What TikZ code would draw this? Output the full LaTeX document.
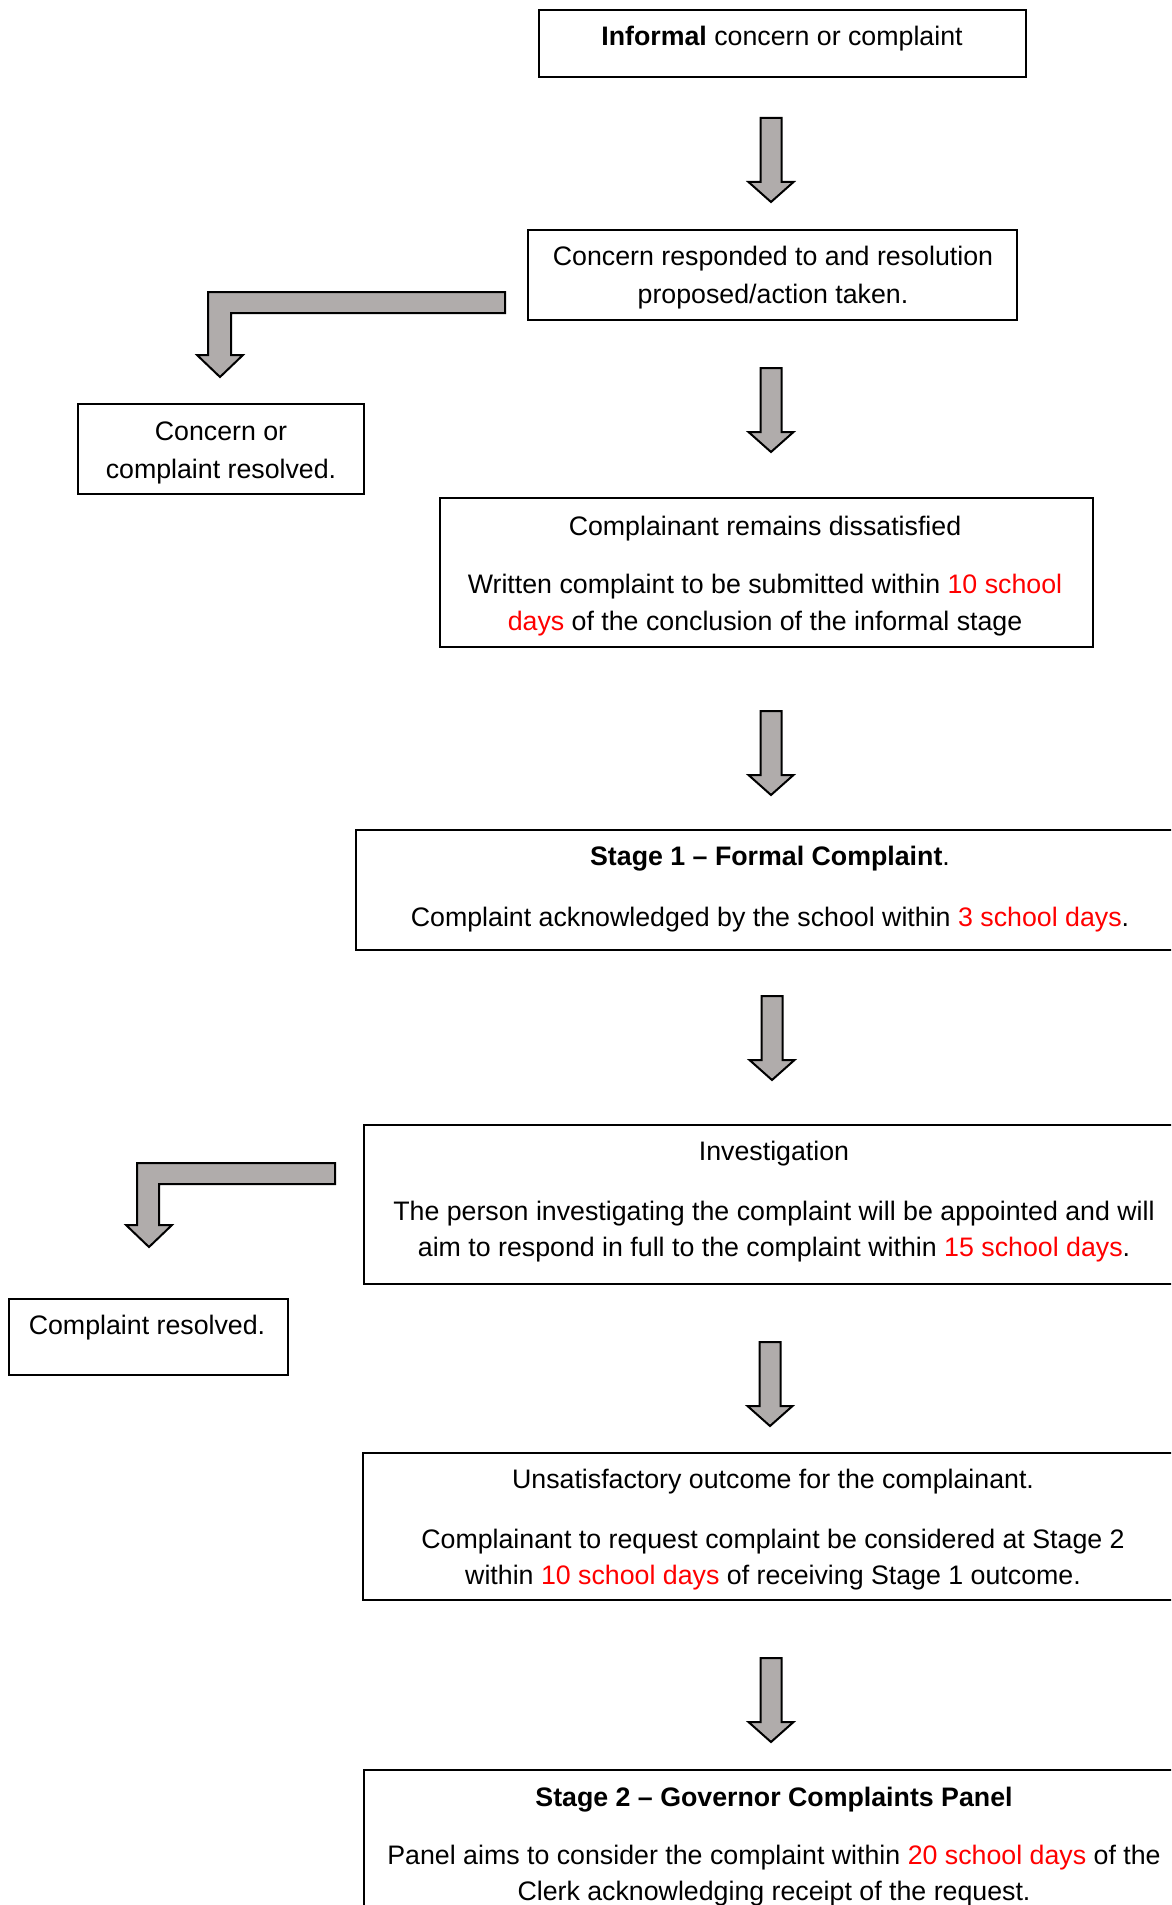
\documentclass[tikz,border=0pt]{standalone}
\usepackage{fontspec}
\setmainfont{Liberation Sans}
\definecolor{arrowgray}{RGB}{176,172,171}
\definecolor{dayred}{RGB}{255,0,0}
\newcommand{\rd}[1]{\textcolor{dayred}{#1}}
\begin{document}
\begin{tikzpicture}[x=1pt,y=-1pt,
  box/.style={draw=black,line width=2pt,inner sep=0pt},
  txt/.style={anchor=base,inner sep=0pt,font=\fontsize{26.75}{36.5}\selectfont},
  blockarrow/.style={draw=black,line width=2pt,fill=arrowgray,line join=miter},
  downarrow/.pic={\draw[blockarrow] (-10.5,0) -- (10.5,0) -- (10.5,64) -- (22.5,64) -- (0,84) -- (-22.5,64) -- (-10.5,64) -- cycle;}]
\useasboundingbox (0,0) rectangle (1171,1905);
\clip (0,0) rectangle (1171,1905);
% boxes
\node[box,minimum width=487,minimum height=67] (b1) at (782.5,43.5) {};
\node[box,minimum width=489,minimum height=90] (b2) at (772.5,275) {};
\node[box,minimum width=286,minimum height=90] (b3) at (221,449) {};
\node[box,minimum width=653,minimum height=149] (b4) at (766.5,572.5) {};
\node[box,minimum width=828,minimum height=120] (b5) at (770,890) {};
\node[box,minimum width=820,minimum height=159] (b6) at (774,1204.5) {};
\node[box,minimum width=279,minimum height=76] (b7) at (148.5,1337) {};
\node[box,minimum width=821,minimum height=147] (b8) at (773.5,1526.5) {};
\node[box,minimum width=820,minimum height=200] (b9) at (774,1870) {};
% texts
\node[txt] (t1) at (782,45.5) {\textbf{Informal} concern or complaint};
\node[txt] (t2a) at (773,265.5) {Concern responded to and resolution};
\node[txt] (t2b) at (773,303.5) {proposed/action taken.};
\node[txt] (t3a) at (221,440.5) {Concern or};
\node[txt] (t3b) at (221,478.5) {complaint resolved.};
\node[txt] (t4a) at (765,535.5) {Complainant remains dissatisfied};
\node[txt] (t4b) at (765,593.5) {Written complaint to be submitted within \rd{10 school}};
\node[txt] (t4c) at (765,630.5) {\rd{days} of the conclusion of the informal stage};
\node[txt] (t5a) at (770,865.5) {\textbf{Stage 1 – Formal Complaint}.};
\node[txt] (t5b) at (770,926.5) {Complaint acknowledged by the school within \rd{3 school days}.};
\node[txt] (t6a) at (774,1160.5) {Investigation};
\node[txt] (t6b) at (774,1220.5) {The person investigating the complaint will be appointed and will};
\node[txt] (t6c) at (774,1256.5) {aim to respond in full to the complaint within \rd{15 school days}.};
\node[txt] (t7) at (147,1334.5) {Complaint resolved.};
\node[txt] (t8a) at (773,1488.5) {Unsatisfactory outcome for the complainant.};
\node[txt] (t8b) at (773,1548.5) {Complainant to request complaint be considered at Stage 2};
\node[txt] (t8c) at (773,1584.5) {within \rd{10 school days} of receiving Stage 1 outcome.};
\node[txt] (t9a) at (774,1806.5) {\textbf{Stage 2 – Governor Complaints Panel}};
\node[txt] (t9b) at (774,1864.5) {Panel aims to consider the complaint within \rd{20 school days} of the};
\node[txt] (t9c) at (774,1900.5) {Clerk acknowledging receipt of the request.};
% straight block arrows
\pic at (771,118) {downarrow};
\pic at (771,368) {downarrow};
\pic at (771,711) {downarrow};
\pic at (772,996) {downarrow};
\pic at (770,1342) {downarrow};
\pic at (771,1658) {downarrow};
% bent block arrows
\draw[blockarrow] (505,292) -- (208,292) -- (208,355) -- (197,355) -- (220,377) -- (243,355) -- (231,355) -- (231,313) -- (505,313) -- cycle;
\draw[blockarrow] (335,1163) -- (137,1163) -- (137,1225) -- (126,1225) -- (149,1247) -- (172,1225) -- (159,1225) -- (159,1184) -- (335,1184) -- cycle;
\end{tikzpicture}
\end{document}
